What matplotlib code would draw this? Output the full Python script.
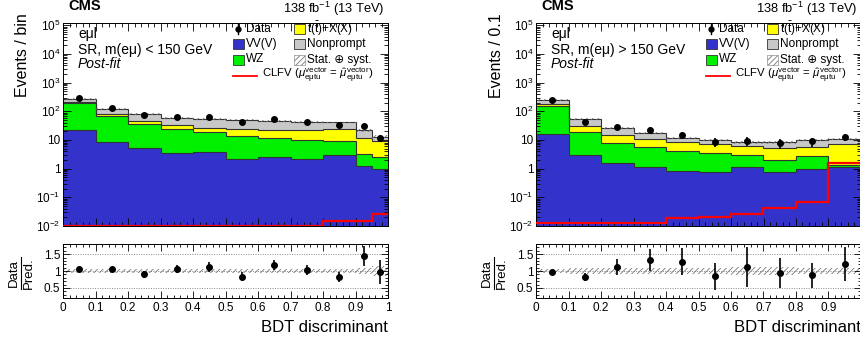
import numpy as np
import matplotlib
matplotlib.use("Agg")
import matplotlib.pyplot as plt
from matplotlib.patches import Rectangle
from matplotlib.lines import Line2D
from matplotlib.ticker import FixedLocator, NullFormatter, MultipleLocator

plt.rcParams['font.family'] = ['Liberation Sans', 'DejaVu Sans']
plt.rcParams['mathtext.fontset'] = 'custom'
plt.rcParams['mathtext.rm'] = 'Liberation Sans'
plt.rcParams['mathtext.it'] = 'Liberation Sans:italic'
plt.rcParams['mathtext.bf'] = 'Liberation Sans:bold'
plt.rcParams['hatch.linewidth'] = 0.6

# ---------------- data ----------------
edges_left = [0, 0.1, 0.2, 0.3, 0.4, 0.5, 0.6, 0.7, 0.8, 0.9, 0.95, 1.0]
vv_left = [23, 8.7, 5.2, 3.5, 3.7, 2.1, 2.5, 2.1, 2.95, 1.25, 1.0]
wz_left = [167, 58, 31, 20.5, 14.8, 11.2, 9.2, 7.9, 6.45, 2.05, 1.5]
ttx_left = [15, 16, 11, 10, 7.5, 10.7, 9.9, 11.6, 14.6, 8.4, 6.4]
nonprompt_left = [66, 38, 34, 25, 29, 27, 24.4, 20.9, 17, 9.9, 3.7]
data_left = [284, 127, 73, 62, 62, 42, 54, 44, 34, 31, 12]
data_err_left = [17, 11, 8.5, 8, 8, 6.5, 7.3, 6.7, 6, 5.5, 3.5]
signal_left = [0.004, 0.004, 0.004, 0.004, 0.004, 0.004, 0.004, 0.004, 0.0155, 0.0155, 0.026]
unc_left = [0.05, 0.05, 0.05, 0.06, 0.06, 0.06, 0.07, 0.07, 0.07, 0.10, 0.14]
ratio_left = [1.05, 1.05, 0.90, 1.05, 1.12, 0.83, 1.18, 1.03, 0.82, 1.45, 0.97]
ratio_err_left = [0.06, 0.08, 0.10, 0.12, 0.15, 0.13, 0.15, 0.16, 0.15, 0.30, 0.35]

edges_right = [0, 0.1, 0.2, 0.3, 0.4, 0.5, 0.6, 0.7, 0.8, 0.9, 1.0]
vv_right = [16.5, 3.05, 1.55, 1.12, 0.84, 0.76, 1.12, 0.79, 0.95, 1.12]
wz_right = [133.5, 15.35, 6.25, 4.48, 3.36, 2.74, 1.93, 1.26, 1.85, 0.23]
ttx_right = [32, 11.6, 7.2, 5.2, 4.0, 3.7, 2.95, 3.15, 2.8, 5.85]
nonprompt_right = [68, 24, 11, 6.7, 3.5, 3.0, 2.2, 3.0, 4.6, 3.6]
data_right = [245, 44, 29, 23, 15, 8.7, 9.2, 7.8, 9.0, 13]
data_err_right = [16, 6.6, 5.4, 4.8, 3.8, 3.0, 3.2, 2.9, 3.1, 3.7]
signal_right = [0.013, 0.013, 0.013, 0.013, 0.0186, 0.021, 0.026, 0.042, 0.071, 1.55]
unc_right = [0.05, 0.08, 0.09, 0.10, 0.10, 0.10, 0.11, 0.11, 0.10, 0.10]
ratio_right = [0.97, 0.82, 1.12, 1.32, 1.27, 0.85, 1.12, 0.95, 0.88, 1.20]
ratio_err_right = [0.03, 0.13, 0.25, 0.33, 0.40, 0.40, 0.60, 0.45, 0.37, 0.50]

xticklabels = ["0", "0.1", "0.2", "0.3", "0.4", "0.5", "0.6", "0.7", "0.8", "0.9", "1"]
ytick_vals = [1e-2, 1e-1, 1, 10, 1e2, 1e3, 1e4, 1e5]
ytick_labels = [r"10$^{-2}$", r"10$^{-1}$", "1", "10", r"10$^{2}$", r"10$^{3}$", r"10$^{4}$", r"10$^{5}$"]
ratio_ticks = [0.5, 1.0, 1.5]
ratio_ticklabels = ["0.5", "1", "1.5"]

C_VV = "#3333cc"
C_WZ = "#00f000"
C_TTX = "#ffff00"
C_NP = "#c8c8c8"
C_LINE = "#333333"
C_HATCH = "#777777"

YMIN, YMAX = 1e-2, 1.2e5

W, H = 860, 341
fig = plt.figure(figsize=(W / 100, H / 100), dpi=100)


def fx(x):
    return x / W


def fy(y):
    return 1 - y / H


def top_panel(x0, edges, comps, data, derr, sig, unc, ylab, region_text):
    ax = fig.add_axes([fx(x0), fy(226), 325 / W, 203 / H])
    edges = np.asarray(edges)
    colors = [C_VV, C_WZ, C_TTX, C_NP]
    bottom = np.full(len(edges) - 1, 1e-4)
    cum = np.zeros(len(edges) - 1)
    tops = []
    for vals, c in zip(comps, colors):
        cum = cum + np.asarray(vals)
        ax.stairs(cum, edges, baseline=bottom, fill=True, color=c, lw=0, zorder=1)
        tops.append(cum.copy())
        bottom = cum.copy()
    for t in tops:
        ax.stairs(t, edges, baseline=None, color=C_LINE, lw=0.8, zorder=2)
    total = tops[-1]
    unc = np.asarray(unc)
    ax.stairs(total * (1 + unc), edges, baseline=total * (1 - unc), fill=True,
              facecolor="none", edgecolor=C_HATCH, hatch="//////", lw=0, zorder=3)
    ax.stairs(np.clip(sig, YMIN * 1.04, None), edges, baseline=None, color="red", lw=1.6, zorder=4)
    centers = 0.5 * (edges[1:] + edges[:-1])
    ax.errorbar(centers, data, yerr=derr, fmt="o", color="black", ms=4, elinewidth=1.2,
                capsize=0, zorder=5)
    ax.set_yscale("log")
    ax.set_ylim(YMIN, YMAX)
    ax.set_xlim(0, 1)
    ax.yaxis.set_major_locator(FixedLocator(ytick_vals))
    ax.set_yticklabels(ytick_labels, fontsize=8.5)
    minors = [m * 10.0 ** e for e in range(-2, 6) for m in range(2, 10)]
    ax.yaxis.set_minor_locator(FixedLocator(minors))
    ax.yaxis.set_minor_formatter(NullFormatter())
    ax.xaxis.set_major_locator(MultipleLocator(0.1))
    ax.xaxis.set_minor_locator(MultipleLocator(0.02))
    ax.set_xticklabels([])
    ax.tick_params(which="both", direction="in", top=True, right=True, labelbottom=False)
    ax.tick_params(which="major", length=6, width=0.6)
    ax.tick_params(which="minor", length=3, width=0.6)
    ax.tick_params(axis="y", pad=2)
    for s in ax.spines.values():
        s.set_linewidth(0.7)
    # y label
    fig.text(fx(x0 - 40), fy(13), ylab, rotation=90, ha="center", va="top", fontsize=11.5)
    # region texts
    fig.text(fx(x0 + 15), fy(38), "eμl", fontsize=10, va="baseline")
    fig.text(fx(x0 + 15), fy(54), region_text, fontsize=10, va="baseline")
    fig.text(fx(x0 + 15), fy(68), "Post-fit", fontsize=10, style="italic", va="baseline")
    # CMS / lumi
    fig.text(fx(x0 + 5), fy(10.5), "CMS", fontsize=10.5, weight="bold", va="baseline")
    fig.text(fx(x0 + 321), fy(12.5), r"138 fb$^{-1}$ (13 TeV)", fontsize=9.3, ha="right", va="baseline")
    # legend
    lf = 8.5
    r1, r2, r3, r4 = 29, 43.5, 59.5, 75.5
    c1, c2 = x0 + 170, x0 + 231
    fig.add_artist(Line2D([fx(c1 + 5)], [fy(r1)], marker="o", ms=3.5, color="black",
                          transform=fig.transFigure))
    fig.add_artist(Line2D([fx(c1 + 5), fx(c1 + 5)], [fy(r1 - 5), fy(r1 + 5)], color="black", lw=1.0,
                          transform=fig.transFigure))
    fig.text(fx(c1 + 13), fy(r1), "Data", fontsize=lf, va="center")
    boxes = [(c2, r1, C_TTX, None, r"t($\bar{\mathrm{t}}$)+X(X)"),
             (c1, r2, C_VV, None, "VV(V)"),
             (c2, r2, C_NP, None, "Nonprompt"),
             (c1, r3, C_WZ, None, "WZ"),
             (c2, r3, "white", "//////", "Stat. ⊕ syst.")]
    for bx, by, col, hatch, lab in boxes:
        if hatch:
            rect = Rectangle((fx(bx), fy(by + 5)), 11 / W, 10 / H, transform=fig.transFigure,
                             facecolor="white", edgecolor=C_HATCH, hatch=hatch, lw=0.4)
        else:
            rect = Rectangle((fx(bx), fy(by + 5)), 11 / W, 10 / H, transform=fig.transFigure,
                             facecolor=col, edgecolor="#333333", lw=0.6)
        fig.add_artist(rect)
        fig.text(fx(bx + 13), fy(by), lab, fontsize=lf, va="center")
    fig.add_artist(Line2D([fx(c1), fx(c1 + 24)], [fy(r4), fy(r4)], color="red", lw=1.3,
                          transform=fig.transFigure))
    fig.text(fx(c1 + 29), fy(r4),
             r"CLFV ($\mu^{\mathrm{vector}}_{\mathrm{e\mu tu}}$ = $\hat{\mu}^{\mathrm{vector}}_{\mathrm{e\mu tu}}$)",
             fontsize=8.2, va="center")
    return ax


def ratio_panel(x0, edges, ratio, rerr, unc):
    ax = fig.add_axes([fx(x0), fy(298), 325 / W, 54 / H])
    edges = np.asarray(edges)
    unc = np.asarray(unc)
    ones = np.ones(len(edges) - 1)
    ax.stairs(ones + unc, edges, baseline=ones - unc, fill=True, facecolor="none",
              edgecolor=C_HATCH, hatch="//////", lw=0, zorder=1)
    for v in ratio_ticks:
        ax.axhline(v, color="#888888", lw=0.7, ls=(0, (1, 1.5)), zorder=0)
    centers = 0.5 * (edges[1:] + edges[:-1])
    ax.errorbar(centers, ratio, yerr=rerr, fmt="o", color="black", ms=4, elinewidth=1.2,
                capsize=0, zorder=5)
    ax.set_xlim(0, 1)
    ax.set_ylim(0.2, 1.8)
    ax.yaxis.set_major_locator(FixedLocator(ratio_ticks))
    ax.set_yticklabels(ratio_ticklabels, fontsize=8.5)
    ax.yaxis.set_minor_locator(MultipleLocator(0.1))
    ax.xaxis.set_major_locator(FixedLocator([i / 10 for i in range(11)]))
    ax.set_xticklabels(xticklabels, fontsize=8.5)
    ax.xaxis.set_minor_locator(MultipleLocator(0.02))
    ax.tick_params(which="both", direction="in", top=True, right=True)
    ax.tick_params(which="major", length=5, width=0.6)
    ax.tick_params(which="minor", length=2.5, width=0.6)
    ax.tick_params(axis="y", pad=2)
    ax.tick_params(axis="x", pad=3)
    for s in ax.spines.values():
        s.set_linewidth(0.7)
    # Data / Pred. label
    fig.text(fx(x0 - 49), fy(273), "Data", rotation=90, ha="center", va="center", fontsize=9.5)
    fig.text(fx(x0 - 34), fy(273), "Pred.", rotation=90, ha="center", va="center", fontsize=9.5)
    fig.add_artist(Line2D([fx(x0 - 42), fx(x0 - 42)], [fy(257), fy(289)], color="black", lw=0.8,
                          transform=fig.transFigure))
    fig.text(fx(x0 + 325), fy(332), "BDT discriminant", fontsize=12, ha="right", va="baseline")
    return ax


top_panel(63, edges_left, [vv_left, wz_left, ttx_left, nonprompt_left], data_left, data_err_left,
          signal_left, unc_left, "Events / bin", "SR, m(eμ) < 150 GeV")
ratio_panel(63, edges_left, ratio_left, ratio_err_left, unc_left)

top_panel(536, edges_right, [vv_right, wz_right, ttx_right, nonprompt_right], data_right, data_err_right,
          signal_right, unc_right, "Events / 0.1", "SR, m(eμ) > 150 GeV")
ratio_panel(536, edges_right, ratio_right, ratio_err_right, unc_right)

fig.savefig("out.png", dpi=100)
